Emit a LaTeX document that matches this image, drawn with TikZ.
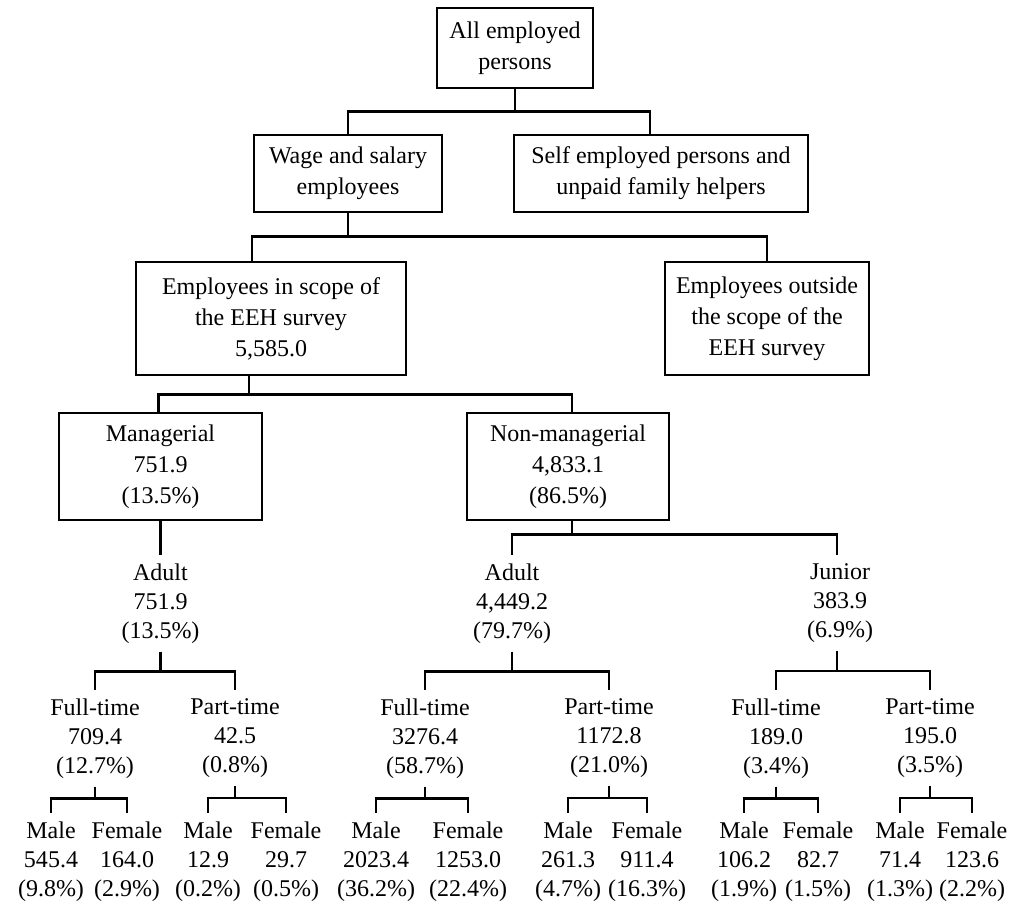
\documentclass[tikz,border=0pt]{standalone}
\usepackage{fontspec}
\setmainfont{Liberation Serif}
\usepackage{tikz}
\usetikzlibrary{positioning,calc}
\tikzset{
    catbox/.style={
        draw,
        line width=1.3pt,
        align=center,
        inner sep=2pt,
        font=\fontsize{12}{15.5}\selectfont
    },
    count/.style={
        anchor=north,
        align=center,
        inner sep=4pt,
        font=\fontsize{12}{14.5}\selectfont
    },
    branch/.style={
        line width=1.3pt
    }
}

\begin{document}
\begin{tikzpicture}[x=0.5pt, y=-0.5pt]
        \useasboundingbox (0,0) rectangle (1015,900);
        \node[catbox, minimum width=78pt, minimum height=40pt] (all) at (515,48) {All employed\\persons};
        \node[catbox, minimum width=94pt, minimum height=38.5pt] (wage) at (348,173.5) {Wage and salary\\employees};
        \node[catbox, minimum width=147pt, minimum height=38.5pt] (self) at (661,173.5) {Self employed persons and\\unpaid family helpers};
        \node[catbox, minimum width=135pt, minimum height=56.5pt] (inscope) at (271,318.5) {Employees in scope of\\the EEH survey\\5,585.0};
        \node[catbox, minimum width=102pt, minimum height=56.5pt] (outside) at (767,318.5) {Employees outside\\the scope of the\\EEH survey};
        \node[catbox, minimum width=101.5pt, minimum height=53.5pt] (mgr) at (160.5,466.5) {Managerial\\751.9\\(13.5\%)};
        \node[catbox, minimum width=101pt, minimum height=53.5pt] (nonmgr) at (568,466.5) {Non-managerial\\4,833.1\\(86.5\%)};

        \node[count] (adultM) at (160.5,555) {Adult\\751.9\\(13.5\%)};
        \node[count] (adultN) at (512,555) {Adult\\4,449.2\\(79.7\%)};
        \node[count] (junior) at (840,555) {Junior\\383.9\\(6.9\%)};

        \node[count] (ftM) at (95,690) {Full-time\\709.4\\(12.7\%)};
        \node[count] (ptM) at (235,690) {Part-time\\42.5\\(0.8\%)};
        \node[count] (ftA) at (425,690) {Full-time\\3276.4\\(58.7\%)};
        \node[count] (ptA) at (609,690) {Part-time\\1172.8\\(21.0\%)};
        \node[count] (ftJ) at (776,690) {Full-time\\189.0\\(3.4\%)};
        \node[count] (ptJ) at (930,690) {Part-time\\195.0\\(3.5\%)};

        \node[count] (ftMm) at (51,813) {Male\\545.4\\(9.8\%)};
        \node[count] (ftMf) at (127,813) {Female\\164.0\\(2.9\%)};
        \node[count] (ptMm) at (208,813) {Male\\12.9\\(0.2\%)};
        \node[count] (ptMf) at (286,813) {Female\\29.7\\(0.5\%)};
        \node[count] (ftAm) at (376,813) {Male\\2023.4\\(36.2\%)};
        \node[count] (ftAf) at (468,813) {Female\\1253.0\\(22.4\%)};
        \node[count] (ptAm) at (568,813) {Male\\261.3\\(4.7\%)};
        \node[count] (ptAf) at (647,813) {Female\\911.4\\(16.3\%)};
        \node[count] (ftJm) at (744,813) {Male\\106.2\\(1.9\%)};
        \node[count] (ftJf) at (818,813) {Female\\82.7\\(1.5\%)};
        \node[count] (ptJm) at (900,813) {Male\\71.4\\(1.3\%)};
        \node[count] (ptJf) at (972,813) {Female\\123.6\\(2.2\%)};

        \draw[branch] (all.south) -- ++(0,22) -| (wage.north);
        \draw[branch] (all.south) -- ++(0,22) -| ([xshift=-5.5pt]self.north);
        \draw[branch] (wage.south) -- ++(0,23) -| ([xshift=-9.5pt]inscope.north);
        \draw[branch] (wage.south) -- ++(0,23) -| (outside.north);
        \draw[branch] ([xshift=-11pt]inscope.south) -- ++(0,18) -| ([xshift=-1pt]mgr.north);
        \draw[branch] ([xshift=-11pt]inscope.south) -- ++(0,18) -| ([xshift=2pt]nonmgr.north);
        \draw[branch] (mgr.south) -- (adultM.north);
        \draw[branch] ([xshift=2pt]nonmgr.south) -- ++(0,13) -| (adultN.north);
        \draw[branch] ([xshift=2pt]nonmgr.south) -- ++(0,13) -| ([xshift=-1.5pt]junior.north);

        \draw[branch] (adultM.south) -- ++(0,20) -| (ftM.north);
        \draw[branch] (adultM.south) -- ++(0,20) -| (ptM.north);
        \draw[branch] (adultN.south) -- ++(0,20) -| (ftA.north);
        \draw[branch] (adultN.south) -- ++(0,20) -| (ptA.north);
        \draw[branch] ([xshift=-1.5pt]junior.south) -- ++(0,20) -| (ftJ.north);
        \draw[branch] ([xshift=-1.5pt]junior.south) -- ++(0,20) -| (ptJ.north);

        \draw[branch] (ftM.south) -- ++(0,12) -| (ftMm.north);
        \draw[branch] (ftM.south) -- ++(0,12) -| (ftMf.north);
        \draw[branch] (ptM.south) -- ++(0,12) -| (ptMm.north);
        \draw[branch] (ptM.south) -- ++(0,12) -| (ptMf.north);
        \draw[branch] (ftA.south) -- ++(0,12) -| (ftAm.north);
        \draw[branch] (ftA.south) -- ++(0,12) -| (ftAf.north);
        \draw[branch] (ptA.south) -- ++(0,12) -| (ptAm.north);
        \draw[branch] (ptA.south) -- ++(0,12) -| (ptAf.north);
        \draw[branch] (ftJ.south) -- ++(0,12) -| (ftJm.north);
        \draw[branch] (ftJ.south) -- ++(0,12) -| (ftJf.north);
        \draw[branch] (ptJ.south) -- ++(0,12) -| (ptJm.north);
        \draw[branch] (ptJ.south) -- ++(0,12) -| (ptJf.north);
    \end{tikzpicture}
\end{document}
